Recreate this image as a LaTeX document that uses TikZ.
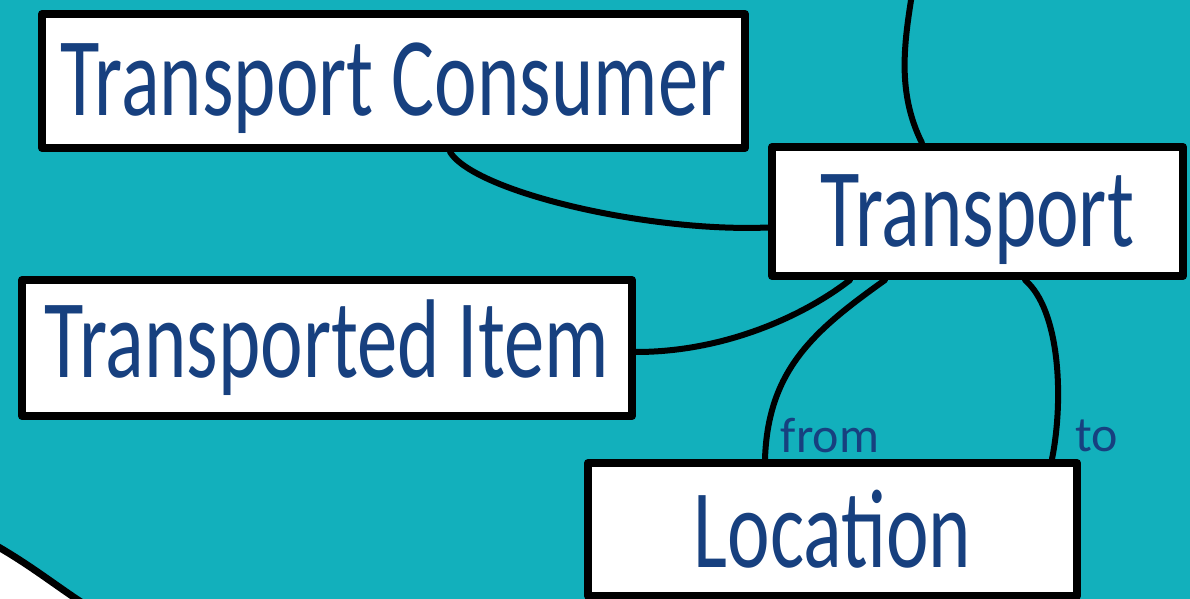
\documentclass[tikz,border=0pt]{standalone}
\usepackage{graphicx}
\usepackage{fontspec}
\setmainfont{Carlito}
\usetikzlibrary{calc}
\definecolor{bgteal}{HTML}{12B0BC}
\definecolor{inkblue}{HTML}{17407F}
\newcommand\hw[1]{\scalebox{0.72}[1]{#1}}
\tikzset{
  conceptbox/.style={draw=black, fill=white, line width=4pt, line join=round,
    text=inkblue, font=\fontsize{56}{60}\selectfont, inner sep=0pt, rectangle},
  lowtext/.style={text height=38pt, text depth=3pt},
  link/.style={draw=black, line width=3pt, line cap=round},
  rolelabel/.style={text=inkblue, font=\fontsize{25}{28}\selectfont, inner sep=0pt}
}
\begin{document}
\begin{tikzpicture}[x=0.5pt,y=-0.5pt]
\useasboundingbox (0,0) rectangle (1190,599);
\fill[bgteal] (0,0) rectangle (1190,599);
% white area bottom-left
\fill[white] (-5,547) .. controls (30,565) and (55,585) .. (84,604) -- (-5,604) -- cycle;
\draw[line width=3.5pt] (-5,545) .. controls (30,565) and (55,585) .. (84,604);
\node[conceptbox, lowtext, minimum width=351.5pt, minimum height=67pt] (cons) at (393.5,81) {\hw{Transport Consumer}};
\node[conceptbox, lowtext, minimum width=205.5pt, minimum height=64.5pt] (trans) at (977.5,211.5) {\hw{Transport}};
\node[conceptbox, minimum width=305pt, minimum height=68pt] (item) at (327,348) {\hw{Transported Item}};
\node[conceptbox, minimum width=244.5pt, minimum height=66.5pt] (loc) at (832.5,529.5) {\hw{Location}};
\coordinate (topend) at (912,-6);
\draw[link] ([xshift=28.25pt]cons.south) .. controls +(25,40) and +(-120,5) .. ([yshift=-8pt]trans.west);
\draw[link] ([yshift=-2pt]item.east) .. controls +(90,0) and +(-45,35) .. ([xshift=-63.75pt]trans.south);
\draw[link] ([xshift=-46.25pt]trans.south) .. controls +(-70,50) and +(3,-90) .. ([xshift=-33.75pt]loc.north);
\draw[link] ([xshift=23.75pt]trans.south) .. controls +(35,30) and +(12,-60) .. ([xshift=109.75pt]loc.north);
\draw[link] ([xshift=-27.75pt]trans.north) .. controls +(-25,-50) and +(-8,50) .. (topend);
\node[rolelabel] (fromlbl) at (830,436) {from};
\node[rolelabel] (tolbl) at (1097,436) {to};
\end{tikzpicture}
\end{document}
